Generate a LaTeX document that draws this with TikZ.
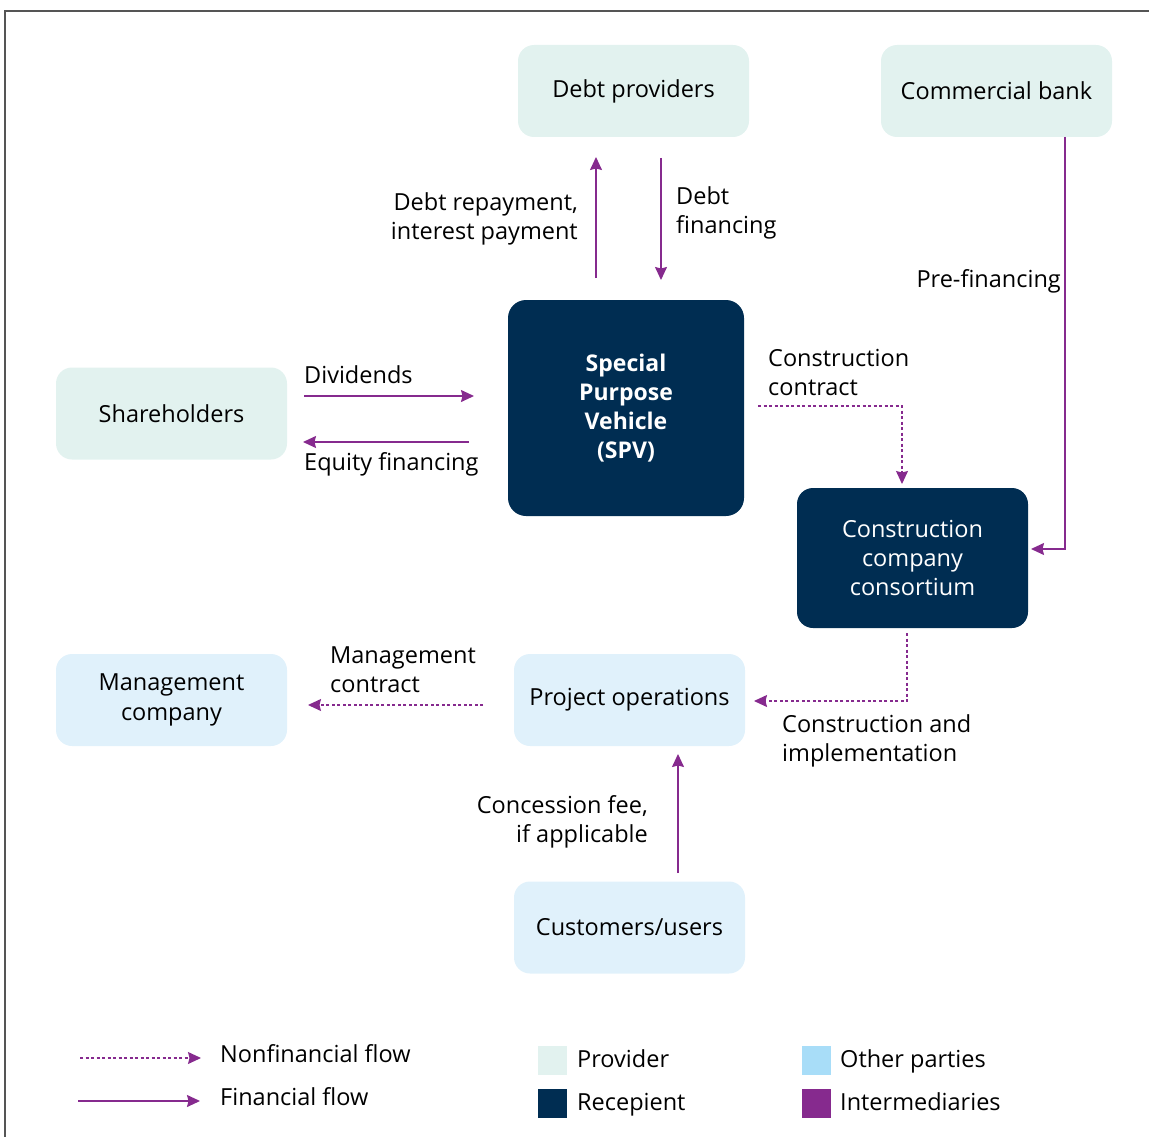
\documentclass[tikz,border=0pt]{standalone}
\usepackage{fontspec}
\setmainfont{Open Sans}
\usetikzlibrary{arrows.meta}
\definecolor{provc}{HTML}{E2F2EF}
\definecolor{recpc}{HTML}{002D52}
\definecolor{otherc}{HTML}{E0F1FB}
\definecolor{otherleg}{HTML}{A8DDF8}
\definecolor{flowc}{HTML}{862A8E}
\definecolor{framec}{HTML}{555555}
\tikzset{
  txt/.style={font=\fontsize{23.5}{29.5}\selectfont, inner sep=0pt},
  box/.style={txt, rounded corners=16pt, minimum width=231pt, minimum height=92pt, align=center},
  provbox/.style={box, fill=provc},
  otherbox/.style={box, fill=otherc},
  recpbox/.style={box, fill=recpc, text=white},
  fin/.style={draw=flowc, line width=1.4pt, -{Stealth[length=13pt,width=12pt,inset=1.5pt]}},
  nonfin/.style={fin, line width=1.2pt, dash pattern=on 3pt off 2.5pt},
  lbl/.style={txt, align=left, anchor=base west},
  lblr/.style={txt, align=right, anchor=base east},
  legsq/.style={minimum width=29pt, minimum height=29pt, inner sep=0pt}
}
\begin{document}
\begin{tikzpicture}[x=1pt,y=-1pt]
\useasboundingbox (0,0) rectangle (1149,1137);
\draw[framec, line width=2pt] (1149,11) -- (5,11) -- (5,1137);

% nodes
\node[provbox] (debt) at (633.5,91) {Debt providers};
\node[provbox] (bank) at (996.5,91) {Commercial bank};
\node[recpbox, minimum width=236pt, minimum height=216pt, rounded corners=18pt, font=\bfseries\fontsize{23}{29}\selectfont] (spv) at (626,408) {Special\\Purpose\\Vehicle\\(SPV)};
\node[provbox] (share) at (171.5,413.5) {Shareholders};
\node[recpbox, minimum height=140pt, font=\fontsize{23.5}{29}\selectfont] (cons) at (912.5,558) {Construction\\company\\consortium};
\node[otherbox] (mgmt) at (171.5,700) {Management\\company};
\node[otherbox] (proj) at (629.5,700) {Project operations};
\node[otherbox] (cust) at (629.5,927.5) {Customers/users};

% helper coordinates
\coordinate (drA) at (596,278);
\coordinate (drB) at (596,157);
\coordinate (dfA) at (661,158);
\coordinate (dfB) at (661,280);
\coordinate (pfA) at (1065,137);
\coordinate (pfB) at (1031,549);
\coordinate (ccA) at (758,406);
\coordinate (ccB) at (902,484);
\coordinate (dvA) at (304,396);
\coordinate (dvB) at (474,396);
\coordinate (efA) at (469,442);
\coordinate (efB) at (303,442);
\coordinate (ciA) at (907,633);
\coordinate (ciB) at (754,701);
\coordinate (mcA) at (483,705);
\coordinate (mcB) at (308,705);
\coordinate (cfA) at (678,873);
\coordinate (cfB) at (678,754);

% connectors
\draw[fin] (drA) -- (drB);
\draw[fin] (dfA) -- (dfB);
\draw[fin] (pfA) |- (pfB);
\draw[nonfin] (ccA) -| (ccB);
\draw[fin] (dvA) -- (dvB);
\draw[fin] (efA) -- (efB);
\draw[nonfin] (ciA) |- (ciB);
\draw[nonfin] (mcA) -- (mcB);
\draw[fin] (cfA) -- (cfB);

% labels (base = last line's baseline)
\node[lblr] (l1) at (578,239.5) {Debt repayment,\\interest payment};
\node[lbl] (l2) at (676,233.5) {Debt\\financing};
\node[lblr] (l3) at (1061,287) {Pre-financing};
\node[lbl] (l4) at (768,395.5) {Construction\\contract};
\node[lbl] (l5) at (304,383) {Dividends};
\node[lbl] (l6) at (304,470) {Equity financing};
\node[lbl] (l7) at (782,761.5) {Construction and\\implementation};
\node[lbl] (l8) at (330,692.5) {Management\\contract};
\node[lblr] (l9) at (648,842.5) {Concession fee,\\if applicable};

% legend
\coordinate (lg1A) at (80,1058);
\coordinate (lg1B) at (201,1058);
\coordinate (lg2A) at (78,1101);
\coordinate (lg2B) at (200,1101);
\draw[nonfin] (lg1A) -- (lg1B);
\draw[fin] (lg2A) -- (lg2B);
\node[lbl] (t1) at (220,1062) {Nonfinancial flow};
\node[lbl] (t2) at (220,1105) {Financial flow};
\node[legsq, fill=provc] (s1) at (552.5,1060.5) {};
\node[legsq, fill=recpc] (s2) at (552.5,1103.5) {};
\node[legsq, fill=otherleg] (s3) at (816.5,1060.5) {};
\node[legsq, fill=flowc] (s4) at (816.5,1103.5) {};
\node[lbl] (t3) at (577,1067) {Provider};
\node[lbl] (t4) at (577,1110) {Recepient};
\node[lbl] (t5) at (840,1067) {Other parties};
\node[lbl] (t6) at (840,1110) {Intermediaries};
\end{tikzpicture}
\end{document}
